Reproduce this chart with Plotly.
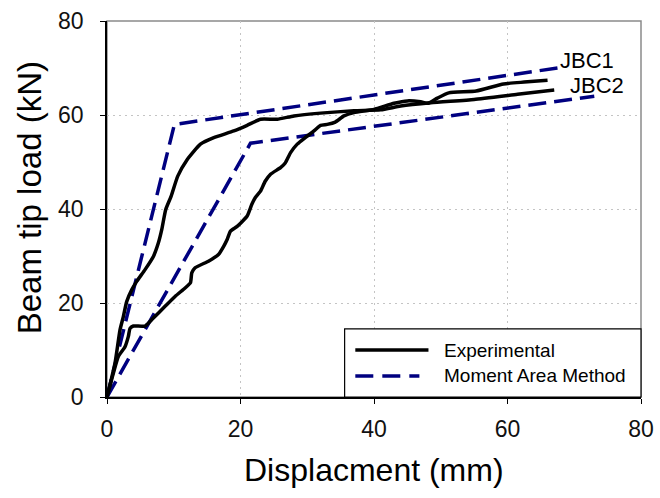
import plotly.graph_objects as go

# Experimental load-displacement curves
jbc1_exp_disp = [0, 1.2, 1.95, 2.45, 2.95, 3.7, 4.45, 5.7, 6.95, 7.7, 8.2, 8.8, 9.6, 10.6,
                 12, 14, 16, 19, 21, 23, 25.5, 28, 32, 37, 41, 44, 48.5, 55, 61.5, 67]
jbc1_exp_load = [0, 7.2, 14.3, 17.1, 20.3, 22.8, 24.6, 27.1, 29.9, 32.8, 35.6, 39.9, 42.7, 47,
                 50.5, 53.8, 55.2, 56.6, 57.8, 59.1, 59.1, 59.8, 60.4, 60.9, 61.1, 61.9, 62.6,
                 63.3, 64.4, 65.3]

jbc2_exp_disp = [0, 0.95, 1.7, 2.7, 3.2, 3.45, 3.95, 5.7, 6.95, 8.7, 10.2, 11.7, 12.5, 12.7,
                 13.2, 15.2, 16.7, 17.5, 18.0, 18.5, 19.5, 21, 21.7, 22.2, 23, 23.7, 24.5, 26,
                 26.7, 27.5, 28.5, 29.7, 31, 32, 33, 34.2, 35.5, 37, 40, 43, 45, 47, 48.1,
                 49.5, 51.2, 55.3, 59.4, 62.5, 66]
jbc2_exp_load = [0, 5.05, 8.6, 10.7, 12.9, 14.6, 15.1, 15.1, 16.8, 19.3, 21.4, 23.2, 24.3, 26.4,
                 27.5, 28.9, 30.3, 32.1, 33.5, 35.3, 36.3, 38.5, 41, 42.4, 43.8, 45.9, 47.4,
                 48.8, 49.8, 52, 53.8, 55.2, 56.6, 57.8, 58, 58.5, 59.8, 60.5, 61.2, 62.5, 63,
                 62.8, 62.5, 63.6, 64.7, 65.1, 66.6, 67, 67.4]

# Moment area method (bilinear) predictions
jbc1_mam_disp = [0, 10.1, 67.5]
jbc1_mam_load = [0, 58, 70]
jbc2_mam_disp = [0, 21.5, 73]
jbc2_mam_load = [0, 54, 64]

x_ticks = [0, 20, 40, 60, 80]
y_ticks = [0, 20, 40, 60, 80]

FONT = "Liberation Sans, Arial, sans-serif"
NAVY = "#000080"
BLACK = "#000000"
DASH = "18px,8px"

fig = go.Figure()

for xs, ys in [(jbc1_mam_disp, jbc1_mam_load), (jbc2_mam_disp, jbc2_mam_load)]:
    fig.add_trace(go.Scatter(x=xs, y=ys, mode="lines",
                             line=dict(color=NAVY, width=3.5, dash=DASH),
                             showlegend=False, hoverinfo="skip"))

for xs, ys in [(jbc1_exp_disp, jbc1_exp_load), (jbc2_exp_disp, jbc2_exp_load)]:
    fig.add_trace(go.Scatter(x=xs, y=ys, mode="lines",
                             line=dict(color=BLACK, width=3.5, shape="spline", smoothing=0.5),
                             showlegend=False, hoverinfo="skip"))

axis_common = dict(
    range=[0, 80], tickvals=x_ticks, ticktext=[str(v) for v in x_ticks],
    showgrid=True, gridcolor="#c4c4c4", griddash="2px,4px", gridwidth=1,
    zeroline=False, showline=True, linecolor="#000000", linewidth=1.5,
    ticks="outside", ticklen=5, tickwidth=1.2, tickcolor="#000000",
    tickfont=dict(family=FONT, size=23, color="#111111"),
    automargin=False,
)

fig.update_layout(
    width=660, height=498,
    margin=dict(l=107, r=19, t=21, b=101),
    paper_bgcolor="white", plot_bgcolor="white",
    showlegend=False,
    xaxis=dict(axis_common, ticklabelstandoff=6),
    yaxis=dict(axis_common, tickvals=y_ticks, ticktext=[str(v) for v in y_ticks],
               ticklabelstandoff=12),
    # companion axes supply the inner half of each tick mark
    xaxis2=dict(range=[0, 80], tickvals=x_ticks, overlaying="x", anchor="y", side="bottom",
                ticks="inside", ticklen=5, tickwidth=1.2, tickcolor="#000000",
                showticklabels=False, showgrid=False, zeroline=False, showline=False,
                automargin=False),
    yaxis2=dict(range=[0, 80], tickvals=y_ticks, overlaying="y", anchor="x", side="left",
                ticks="inside", ticklen=5, tickwidth=1.2, tickcolor="#000000",
                showticklabels=False, showgrid=False, zeroline=False, showline=False,
                automargin=False),
)

# grey frame around the plot area
fig.add_shape(type="rect", xref="paper", yref="paper", x0=0, x1=1, y0=0, y1=1,
              line=dict(color="#8a8a8a", width=1.5), layer="below")

# axis titles
fig.add_annotation(text="Displacment (mm)", xref="paper", yref="paper", x=0.5, y=-0.195,
                   showarrow=False, xanchor="center", yanchor="middle",
                   font=dict(family=FONT, size=32, color="#000000"))
fig.add_annotation(text="Beam tip load (kN)", xref="paper", yref="paper", x=-0.145, y=0.53,
                   textangle=-90, showarrow=False, xanchor="center", yanchor="middle",
                   font=dict(family=FONT, size=33, color="#000000"))

# specimen labels
fig.add_annotation(text="JBC1", x=67.6, y=71.6, xref="x", yref="y", showarrow=False,
                   xanchor="left", yanchor="middle", font=dict(family=FONT, size=22, color="#000000"))
fig.add_annotation(text="JBC2", x=69.0, y=66.2, xref="x", yref="y", showarrow=False,
                   xanchor="left", yanchor="middle", font=dict(family=FONT, size=22, color="#000000"))

# legend box
fig.add_shape(type="rect", xref="paper", yref="paper", x0=0.445, x1=1, y0=0, y1=0.181,
              line=dict(color="#000000", width=1.2), fillcolor="white", layer="above")
fig.add_shape(type="line", xref="paper", yref="paper", x0=0.465, x1=0.602, y0=0.125, y1=0.125,
              line=dict(color=BLACK, width=3.5), layer="above")
fig.add_shape(type="line", xref="paper", yref="paper", x0=0.465, x1=0.585, y0=0.056, y1=0.056,
              line=dict(color=NAVY, width=3.5, dash="18px,9px"), layer="above")
fig.add_annotation(text="Experimental", xref="paper", yref="paper", x=0.627, y=0.125,
                   showarrow=False, xanchor="left", yanchor="middle",
                   font=dict(family=FONT, size=19, color="#000000"))
fig.add_annotation(text="Moment Area Method", xref="paper", yref="paper", x=0.627, y=0.056,
                   showarrow=False, xanchor="left", yanchor="middle",
                   font=dict(family=FONT, size=19, color="#000000"))

fig.write_html("out.html")
